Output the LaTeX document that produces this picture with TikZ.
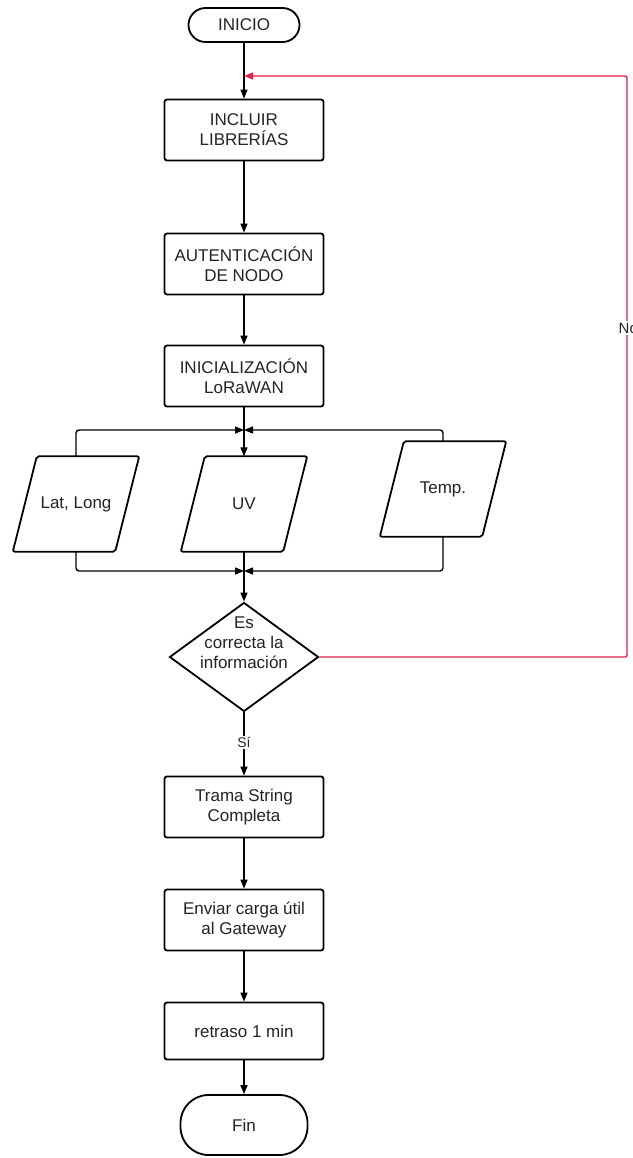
\documentclass[tikz,border=0pt]{standalone}
\usepackage{fontspec}
\setmainfont{Liberation Sans}
\usetikzlibrary{shapes.geometric,arrows.meta}

\definecolor{texto}{RGB}{35,35,35}
\definecolor{lazo}{RGB}{222,32,78}

\tikzset{
	every node/.style={font=\fontsize{17}{20}\selectfont, text=texto},
	flecha/.style={line width=1.4pt, -{Triangle[length=9pt,width=7pt]}},
	linea/.style={line width=1.4pt},
	borde/.style={line width=1.8pt, rounded corners=2pt},
	proceso/.style={draw, borde, rounded corners=2.5pt, minimum width=159pt, minimum height=61pt, inner sep=0pt, align=center},
	terminal/.style={draw, line width=1.8pt, inner sep=0pt},
	dato/.style={minimum width=126pt, minimum height=95pt, inner sep=0pt},
	decision/.style={draw, line width=1.8pt, diamond, minimum width=149pt, minimum height=109pt, inner sep=0pt},
	etiqueta/.style={fill=white, inner sep=1.5pt}
}

\begin{document}
\begin{tikzpicture}[x=1pt, y=-1pt]
	\useasboundingbox (0,0) rectangle (632,1158);
	% Inicio y configuracion
	\node[terminal, minimum width=111pt, minimum height=34pt, rounded corners=17pt] (inicio) at (244,25) {INICIO};
	\node[proceso] (librerias) at (244,130) {INCLUIR\\LIBRERÍAS};
	\node[proceso] (autent) at (244,264) {AUTENTICACIÓN\\DE NODO};
	\node[proceso] (lorawan) at (244,376) {INICIALIZACIÓN\\LoRaWAN};
	% Sensores (paralelogramos)
	\node[dato] (latlong) at (76,504) {Lat, Long};
	\node[dato] (uv) at (244,504) {UV};
	\node[dato] (temp) at (443,489) {Temp.};
	\foreach \n in {latlong,uv,temp}
		\draw[borde] ([xshift=24pt]\n.north west) -- (\n.north east) -- ([xshift=-24pt]\n.south east) -- (\n.south west) -- cycle;
	% Decision
	\node[decision] (correcta) at (244,657) {};
	\node[align=center, inner sep=0pt] (pregunta) at (244,643) {Es\\correcta la\\información};
	% Envio
	\node[proceso] (trama) at (244,807) {Trama String\\Completa};
	\node[proceso] (enviar) at (244,920) {Enviar carga útil\\al Gateway};
	\node[proceso, minimum height=57pt] (retraso) at (244,1031) {retraso 1 min};
	\node[terminal, minimum width=127pt, minimum height=60pt, rounded corners=28pt] (fin) at (244,1125) {Fin};

	% puntos de union
	\coordinate (retorno) at (244,76);
	\coordinate (esquina) at (627,76);
	\coordinate (union1) at (244,430);
	\coordinate (union2) at (244,571);

	% Flechas
	\draw[linea] (inicio) -- (retorno);
	\draw[flecha] (retorno) -- (librerias);
	\draw[flecha] (librerias) -- (autent);
	\draw[flecha] (autent) -- (lorawan);
	\draw[linea] (lorawan) -- (union1);
	\draw[flecha] (union1) -- (uv);
	\draw[flecha, rounded corners=3pt] (latlong.north) |- (union1);
	\draw[flecha, rounded corners=3pt] (temp.north) |- (union1);
	\draw[linea] (uv) -- (union2);
	\draw[flecha, rounded corners=3pt] (latlong.south) |- (union2);
	\draw[flecha, rounded corners=3pt] (temp.south) |- (union2);
	\draw[flecha] (union2) -- (correcta);
	\draw[flecha] (correcta) -- node[etiqueta, pos=0.48, font=\fontsize{14}{16}\selectfont] (si) {Sí} (trama);
	\draw[flecha] (trama) -- (enviar);
	\draw[flecha] (enviar) -- (retraso);
	\draw[flecha] (retraso) -- (fin);
	% Retorno si la informacion no es correcta
	\draw[flecha, draw=lazo, rounded corners=2pt] (correcta.east) -| (esquina) -- (retorno);
	\node[etiqueta, font=\fontsize{15}{17}\selectfont, anchor=west] (no) at (617,328) {No};
\end{tikzpicture}
\end{document}
